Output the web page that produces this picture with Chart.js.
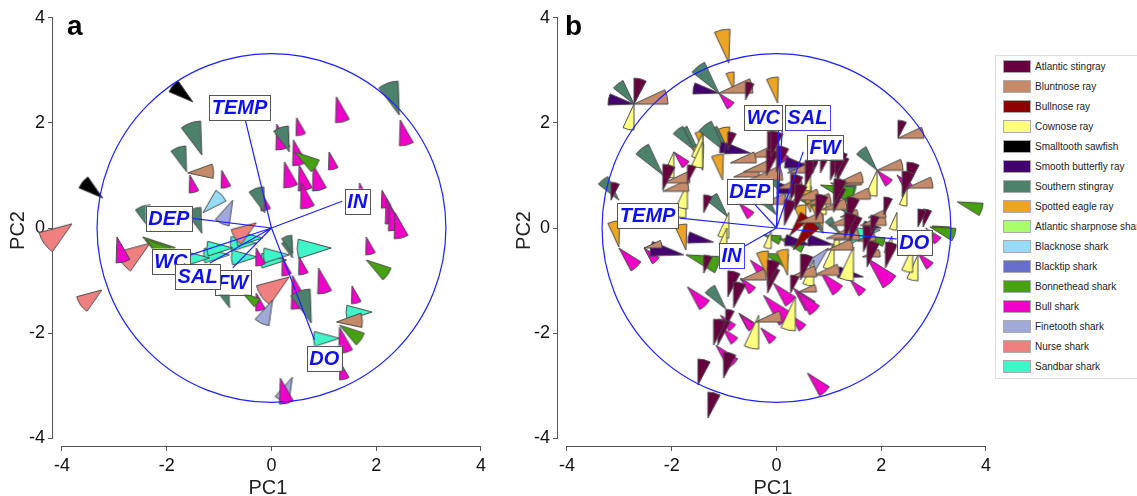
<!DOCTYPE html>
<html>
<head>
<meta charset="utf-8">
<script src="https://cdn.jsdelivr.net/npm/chart.js@4/dist/chart.umd.min.js"></script>
<style>
  body { margin: 0; width: 1137px; height: 496px; overflow: hidden; background: #fff; position: relative; font-family: 'Liberation Sans', Arial, sans-serif; }
  #ca { position: absolute; left: 0; top: 0; }
  #cb { position: absolute; left: 500px; top: 0; }
  #leyenda { position: absolute; left: 995px; top: 55px; width: 170px; height: 322px; border: 1px solid #ddd; }
  .fila { position: absolute; left: 0; height: 20px; display: flex; align-items: center; white-space: nowrap; }
  .caja { width: 28px; height: 13px; margin-left: 7px; border: 1px solid #aaa; box-sizing: border-box; }
  .nom { margin-left: 4px; font-size: 10px; color: #222; }
</style>
</head>
<body>
<canvas id="ca" width="490" height="500"></canvas>
<canvas id="cb" width="495" height="500"></canvas>
<div id="leyenda"></div>
<script>
// Especies (orden de la leyenda) y sus colores
const especies = ['Atlantic stingray', 'Bluntnose ray', 'Bullnose ray', 'Cownose ray', 'Smalltooth sawfish',
  'Smooth butterfly ray', 'Southern stingray', 'Spotted eagle ray', 'Atlantic sharpnose shark', 'Blacknose shark',
  'Blacktip shark', 'Bonnethead shark', 'Bull shark', 'Finetooth shark', 'Nurse shark', 'Sandbar shark'];
const colores = ['#66003f', '#c48a6a', '#8f0000', '#ffff80', '#000000', '#44006e', '#4c826c', '#eca424',
  '#a8ff6a', '#96dcf8', '#6670cc', '#46a012', '#f000c8', '#a0aad8', '#f08080', '#40f5c8'];

const ticksEje = [-4, -2, 0, 2, 4];
const radioCirculo = 3.33;

// Vectores de las variables ambientales
const vectores = ['TEMP', 'IN', 'DEP', 'DO', 'WC', 'FW', 'SAL'];
const aVecX = [-0.50, 1.35, -1.54, 0.82, -1.60, -0.74, -1.18];
const aVecY = [2.06, 0.51, 0.19, -2.13, -0.53, -0.76, -0.67];
const aLabX = [-0.61, 1.64, -1.96, 1.01, -1.92, -0.74, -1.41];
const aLabY = [2.30, 0.51, 0.19, -2.48, -0.63, -1.03, -0.93];
const bVecX = [-1.85, -0.67, -0.44, 2.32, 0.04, 0.51, 0.11];
const bVecY = [0.19, -0.38, 0.48, -0.21, 1.87, 1.45, 1.87];
const bLabX = [-2.46, -0.86, -0.51, 2.63, -0.25, 0.93, 0.59];
const bLabY = [0.23, -0.53, 0.70, -0.27, 2.10, 1.54, 2.10];

// Panel a: [PC1, PC2, abundancia] por especie
const aAtlantic = [];
const aBluntnose = [[-1.60, 1.05, 2], [1.24, -1.79, 2]];
const aBullnose = [];
const aCownose = [];
const aSawfish = [[-1.50, 2.40, 2], [-3.22, 0.57, 2]];
const aButterfly = [];
const aSouthern = [[-1.33, 1.39, 3], [-1.62, 1.07, 2], [2.44, 2.15, 3], [-2.30, -0.05, 2], [-1.33, -0.10, 2],
  [-0.13, 0.29, 2], [0.34, 1.45, 2], [0.40, -0.57, 1], [0.76, -1.81, 3], [-0.80, -1.52, 1], [0.40, -0.48, 1]];
const aEagle = [];
const aSharpnose = [];
const aBlacknose = [[-1.31, 0.29, 2]];
const aBlacktip = [];
const aBonnethead = [[0.44, 1.45, 2], [-2.46, -0.17, 3], [-2.40, -0.22, 2], [1.81, -0.61, 2], [1.30, -1.85, 2], [-0.55, -1.24, 1]];
const aBull = [[1.24, 2.50, 2], [2.46, 2.06, 2], [0.10, 1.98, 2], [0.48, 2.10, 1], [0.42, 1.68, 2], [1.10, 1.45, 1],
  [0.25, 1.26, 2], [0.53, 1.20, 2], [0.80, 1.20, 2], [0.57, 0.86, 2], [-1.56, 1.01, 1], [-0.95, 1.10, 1],
  [-0.19, 0.67, 1], [2.11, 0.72, 1], [2.19, 0.57, 2], [2.25, 0.44, 2], [2.36, 0.29, 2], [1.68, 0.86, 1],
  [-2.95, -0.17, 2], [1.81, -0.17, 1], [-0.29, -0.38, 1], [0.21, -0.57, 1], [0.53, -0.55, 1], [0.40, -0.90, 3],
  [0.90, -0.76, 2], [1.54, -1.10, 1], [1.30, -1.89, 2], [1.31, -2.55, 1], [-0.29, -1.24, 1], [0.17, -2.86, 2]];
const aFinetooth = [[-0.74, 0.53, 2], [0.02, -1.37, 2], [0.40, -2.84, 2]];
const aNurse = [[-3.81, 0.08, 3], [-3.24, -1.18, 2], [-2.32, -0.29, 3], [-0.29, 0.10, 2], [0.34, -0.93, 3]];
const aSandbar = [[1.14, -0.38, 3], [-0.29, -0.29, 2], [-0.27, -0.55, 2], [-0.80, -0.51, 2], [0.29, -0.61, 2],
  [-1.18, -0.57, 2], [-0.74, -0.38, 2], [-0.17, -0.19, 2], [0.34, -0.51, 2], [1.92, -1.60, 2], [1.30, -2.10, 2]];

// Panel b
const bAtlantic = [[-2.72, 2.36, 2], [-0.59, 2.44, 1], [2.32, 1.71, 1], [2.49, 0.76, 2], [2.40, 0.59, 2], [1.03, 0.91, 2],
  [1.15, 0.88, 2], [1.09, 0.30, 2], [2.80, 0.02, 1], [-0.17, 1.35, 2], [-0.93, 1.49, 1], [-2.17, 0.72, 2],
  [-1.39, 0.29, 1], [-0.19, 1.00, 2], [0.00, 1.07, 2], [0.27, 0.53, 2], [0.84, 1.05, 3], [1.12, 0.97, 2],
  [1.40, -0.25, 2], [2.70, 0.02, 1], [0.46, -0.99, 2], [-0.17, -1.24, 2], [0.27, -1.24, 1], [-0.93, -1.31, 2],
  [-0.97, -1.89, 1], [-1.12, -2.23, 2], [-1.01, -2.86, 2], [-1.50, -2.99, 2], [-1.31, -3.62, 2], [1.73, -0.74, 2],
  [2.08, -0.76, 2], [-1.39, -0.86, 1], [-1.70, 0.86, 1], [-3.16, 0.53, 1], [-0.11, 1.35, 2], [-0.82, -1.52, 2],
  [-0.17, -1.10, 2], [-1.20, -2.23, 2], [1.66, -0.45, 2], [0.15, 0.05, 2], [0.75, 0.15, 2], [1.35, 0.10, 2],
  [1.80, -0.10, 1], [1.30, -0.20, 2], [0.35, 0.35, 2], [1.10, 0.45, 2], [2.05, 0.25, 1], [0.55, 0.80, 2], [0.70, 1.10, 2]];
const bBluntnose = [[-2.72, 2.36, 3], [-1.10, 2.57, 3], [2.32, 1.71, 2], [1.92, 1.10, 2], [2.49, 0.76, 2], [1.28, 0.82, 1],
  [1.22, 0.21, 1], [-0.55, 1.35, 3], [-2.17, 0.70, 2], [-0.82, 0.97, 2], [0.21, 1.05, 2], [0.32, 0.53, 2],
  [1.16, 0.86, 2], [1.09, -0.23, 2], [0.97, -0.42, 2], [1.64, -0.55, 1], [0.71, -0.90, 2], [0.42, -1.22, 1],
  [-0.40, -1.79, 2], [-0.69, -0.99, 2], [0.27, -0.93, 2], [-2.53, -0.38, 1], [-2.15, 0.86, 2], [-0.88, 1.24, 2],
  [-0.63, 1.07, 2], [-0.53, 0.91, 3], [0.40, 0.10, 2], [1.00, 0.05, 2], [1.60, 0.05, 2], [0.95, -0.20, 2],
  [1.55, -0.25, 1], [2.50, -0.20, 1], [0.55, 0.45, 2], [0.85, 0.35, 2], [1.30, 0.55, 2], [1.75, 0.20, 1],
  [0.00, 0.75, 2], [-0.30, 0.45, 2]];
const bBullnose = [[0.32, -0.42, 3], [0.25, -0.15, 2]];
const bCownose = [[-2.72, 2.36, 2], [1.92, 1.10, 2], [2.49, 0.76, 1], [-1.41, 1.81, 2], [-1.96, 1.45, 2], [-1.73, 0.69, 2],
  [-0.91, 0.30, 2], [-0.95, 0.00, 1], [0.65, 1.05, 1], [1.47, -0.36, 3], [0.71, -0.61, 2], [0.36, -1.31, 3],
  [-0.34, -1.66, 3], [2.70, -0.51, 2], [-1.41, 1.64, 2], [-1.70, 0.86, 2], [1.20, -0.05, 1], [1.10, -0.30, 2],
  [2.20, -0.15, 1], [2.60, -0.35, 2], [-0.10, -0.05, 1], [0.95, 0.60, 1], [2.30, 0.30, 1], [-0.88, -0.42, 1]];
const bSawfish = [];
const bButterfly = [[-2.72, 2.36, 2], [-1.10, 2.57, 2], [-0.59, 1.45, 2], [0.51, 0.67, 2], [0.65, -0.32, 2], [1.09, -0.32, 2],
  [1.66, -0.93, 2], [-1.77, -0.51, 3], [-1.20, -0.27, 2], [-0.50, 1.43, 2], [2.00, 0.00, 1], [0.65, 1.16, 2]];
const bSouthern = [[-2.72, 2.36, 2], [-1.10, 2.57, 3], [1.92, 1.10, 2], [-0.93, 1.49, 2], [-1.50, 1.49, 2], [-2.17, 1.01, 3],
  [-0.93, 0.21, 2], [-3.01, 0.53, 2], [-0.97, -1.54, 2], [-1.58, 1.49, 2], [-0.97, 1.45, 3], [0.00, 0.25, 2],
  [0.15, 0.65, 2], [1.20, -0.10, 1], [1.50, 0.15, 1], [0.90, -0.10, 1]];
const bEagle = [[-0.91, 3.14, 3], [-0.82, 2.63, 1], [0.02, 2.38, 2], [-1.41, 1.50, 1], [-0.91, 1.43, 2], [-1.41, 1.10, 2],
  [-1.03, 0.91, 2], [0.88, -0.04, 2], [-0.17, -0.93, 2], [0.21, -0.90, 2], [-1.73, -0.42, 2], [-3.01, -0.36, 2],
  [0.55, -0.05, 2], [0.65, 0.30, 2]];
const bSharpnose = [];
const bBlacknose = [];
const bBlacktip = [[0.55, 1.25, 1]];
const bBonnethead = [[3.45, 0.50, 2], [1.03, 0.86, 2], [0.46, 0.53, 2], [2.97, 0.04, 1], [0.84, 0.82, 3], [-0.25, -0.13, 1],
  [1.73, -0.17, 1], [2.93, 0.02, 2], [-1.73, -0.51, 3], [-0.27, -0.48, 2], [0.05, -0.20, 2]];
const bBull = [[-1.10, 2.57, 1], [1.92, 1.10, 1], [2.30, 1.01, 1], [2.85, 0.00, 1], [-1.96, 1.45, 1], [-0.72, 0.48, 1],
  [-0.06, 1.54, 1], [2.70, -0.48, 1], [0.84, -0.84, 2], [1.41, -0.99, 1], [1.73, -0.57, 3], [0.32, -1.14, 2],
  [-0.06, -1.05, 2], [-0.25, -1.28, 3], [0.27, -1.66, 1], [-0.72, -1.62, 1], [-0.30, -1.90, 1], [-0.69, -0.95, 1],
  [-1.70, -1.12, 2], [-1.03, -1.91, 1], [-1.16, -2.23, 2], [0.59, -2.76, 2], [-2.53, -0.38, 1], [-3.01, -0.38, 2],
  [0.40, -1.22, 2], [-0.50, -0.61, 1], [-0.69, -1.66, 1], [-1.07, -1.66, 1]];
const bFinetooth = [[0.99, -0.38, 2], [0.35, 0.75, 1]];
const bNurse = [];
const bSandbar = [[1.98, -0.04, 3]];

const puntosA = [aAtlantic, aBluntnose, aBullnose, aCownose, aSawfish, aButterfly, aSouthern, aEagle,
  aSharpnose, aBlacknose, aBlacktip, aBonnethead, aBull, aFinetooth, aNurse, aSandbar];
const puntosB = [bAtlantic, bBluntnose, bBullnose, bCownose, bSawfish, bButterfly, bSouthern, bEagle,
  bSharpnose, bBlacknose, bBlacktip, bBonnethead, bBull, bFinetooth, bNurse, bSandbar];

// Sector (grados, antihorario desde el este) de cada especie en cada panel
const angA = [[62, 90], [-12, 20], [40, 65], [245, 270], [125, 157], [155, 182], [92, 127], [88, 115],
  [20, 45], [27, 60], [200, 225], [310, 342], [268, 300], [228, 262], [195, 235], [165, 198]];
const angB = [[62, 90], [0, 25], [40, 65], [245, 270], [125, 157], [157, 182], [115, 142], [88, 115],
  [20, 45], [27, 60], [200, 225], [328, 357], [298, 328], [212, 240], [195, 235], [175, 205]];

// Dibuja un sector (cuña) con el vértice en el centro del canvas
const cacheCuna = {};
function cuna(panel, sp, ab) {
  const key = panel + sp + '_' + ab;
  if (cacheCuna[key]) return cacheCuna[key];
  const r = 10 + 8 * ab;
  const [a0, a1] = (panel === 'a' ? angA : angB)[sp];
  const s = Math.ceil(r + 3);
  const c = document.createElement('canvas');
  c.width = c.height = 2 * s;
  const g = c.getContext('2d');
  g.beginPath();
  g.moveTo(s, s);
  g.arc(s, s, r, -a1 * Math.PI / 180, -a0 * Math.PI / 180);
  g.closePath();
  g.fillStyle = colores[sp];
  g.fill();
  g.strokeStyle = '#4a4a4a';
  g.lineWidth = 1;
  g.stroke();
  cacheCuna[key] = c;
  return c;
}

function armarDatasets(panel, puntos) {
  return puntos.map((lista, sp) => ({
    label: especies[sp],
    data: lista.map(p => ({ x: p[0], y: p[1], ab: p[2] })),
    backgroundColor: colores[sp],
    pointRadius: 2,
    pointStyle: ctx => (ctx.raw ? cuna(panel, sp, ctx.raw.ab) : 'circle'),
    clip: false
  }));
}

// Plugin: ejes estilo R, círculo, vectores con etiquetas y letra del panel
const biplot = {
  id: 'biplot',
  beforeDatasetsDraw(chart) {
    const { ctx, chartArea, scales: { x, y } } = chart;
    ctx.save();
    ctx.strokeStyle = '#555';
    ctx.lineWidth = 1;
    ctx.beginPath();
    ctx.moveTo(chartArea.left - 0.5, y.getPixelForValue(ticksEje[0]));
    ctx.lineTo(chartArea.left - 0.5, y.getPixelForValue(ticksEje[ticksEje.length - 1]));
    ctx.moveTo(x.getPixelForValue(ticksEje[0]), chartArea.bottom + 0.5);
    ctx.lineTo(x.getPixelForValue(ticksEje[ticksEje.length - 1]), chartArea.bottom + 0.5);
    ctx.stroke();
    ctx.restore();
  },
  afterDatasetsDraw(chart, args, o) {
    const { ctx, chartArea, scales: { x, y } } = chart;
    const x0 = x.getPixelForValue(0), y0 = y.getPixelForValue(0);
    ctx.save();
    ctx.strokeStyle = '#2020ff';
    ctx.lineWidth = 1.2;
    ctx.beginPath();
    ctx.arc(x0, y0, x.getPixelForValue(radioCirculo) - x0, 0, 2 * Math.PI);
    ctx.stroke();
    ctx.beginPath();
    o.vx.forEach((vx, i) => {
      ctx.moveTo(x0, y0);
      ctx.lineTo(x.getPixelForValue(vx), y.getPixelForValue(o.vy[i]));
    });
    ctx.stroke();
    ctx.font = 'bold italic 20px "Liberation Sans", Arial, sans-serif';
    ctx.textAlign = 'center';
    ctx.textBaseline = 'middle';
    vectores.forEach((nom, i) => {
      const cx = x.getPixelForValue(o.lx[i]), cy = y.getPixelForValue(o.ly[i]);
      const w = ctx.measureText(nom).width + 5;
      ctx.fillStyle = '#fff';
      ctx.fillRect(cx - w / 2, cy - 12.5, w, 25);
      ctx.strokeStyle = o.azules.includes(nom) ? '#4040ff' : '#555';
      ctx.lineWidth = 1;
      ctx.strokeRect(Math.round(cx - w / 2) + 0.5, Math.round(cy - 12.5) + 0.5, Math.round(w), 25);
      ctx.fillStyle = '#1010ee';
      ctx.fillText(nom, cx, cy + 1);
    });
    ctx.fillStyle = '#000';
    ctx.font = 'bold 28px "Liberation Sans", Arial, sans-serif';
    ctx.textAlign = 'left';
    ctx.textBaseline = 'alphabetic';
    ctx.fillText(o.letra, chartArea.left + o.dxLetra, 35);
    ctx.restore();
  }
};

function escalas(anchoY, tituloY) {
  const fuente = { family: "'Liberation Sans', Arial, sans-serif", size: 18 };
  const comun = {
    type: 'linear',
    min: -4.171, max: 4.038,
    afterBuildTicks: s => { s.ticks = ticksEje.map(v => ({ value: v })); },
    grid: { drawOnChartArea: false, drawTicks: true, tickLength: 5, color: '#555' },
    border: { display: false },
    ticks: { font: fuente, color: '#111', padding: 3 }
  };
  return {
    x: { ...comun, position: 'bottom',
      ticks: { ...comun.ticks, padding: 4 },
      title: { display: true, text: 'PC1', color: '#222', font: { family: fuente.family, size: 20 }, padding: 0 },
      afterFit: s => { s.height = 54; } },
    y: { ...comun, min: -4.152, max: 4.057, position: 'left',
      title: { display: true, text: 'PC2', color: '#222', font: { family: fuente.family, size: 20 }, padding: { top: tituloY, bottom: 0 } },
      afterFit: s => { s.width = anchoY; } }
  };
}

function crearGrafico(idCanvas, panel, puntos, anchoY, tituloY, extra) {
  return new Chart(document.getElementById(idCanvas), {
    type: 'scatter',
    data: { datasets: armarDatasets(panel, puntos) },
    options: {
      responsive: false,
      animation: false,
      events: [],
      layout: { padding: { left: 0, right: 6, top: 15, bottom: 0 } },
      scales: escalas(anchoY, tituloY),
      plugins: { legend: { display: false }, tooltip: { enabled: false }, biplot: extra }
    },
    plugins: [biplot]
  });
}

crearGrafico('ca', 'a', puntosA, 53, 6,
  { vx: aVecX, vy: aVecY, lx: aLabX, ly: aLabY, azules: [], letra: 'a', dxLetra: 14 });
crearGrafico('cb', 'b', puntosB, 58, 12,
  { vx: bVecX, vy: bVecY, lx: bLabX, ly: bLabY, azules: ['SAL', 'IN'], letra: 'b', dxLetra: 7 });

// Leyenda en HTML
const leyenda = document.getElementById('leyenda');
leyenda.innerHTML = especies.map((nom, i) =>
  `<div class="fila" style="top:${20 * i}px"><div class="caja" style="background:${colores[i]}"></div><span class="nom">${nom}</span></div>`
).join('');
</script>
</body>
</html>
